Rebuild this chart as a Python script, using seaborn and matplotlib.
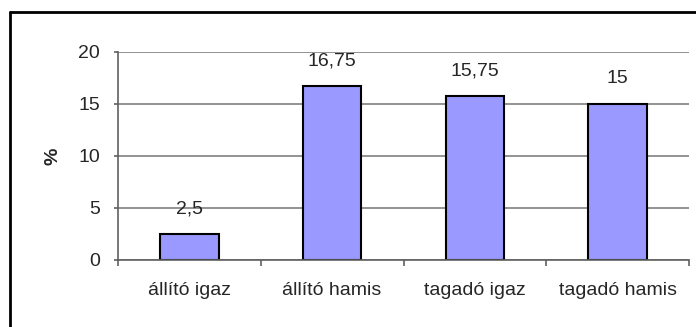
import matplotlib
matplotlib.use("Agg")
import matplotlib.pyplot as plt
from matplotlib.lines import Line2D
import seaborn as sns
import pandas as pd

categories = ["állító igaz", "állító hamis", "tagadó igaz", "tagadó hamis"]
values = [2.5, 16.75, 15.75, 15]
y_ticks = [0, 5, 10, 15, 20]

sns.set_style("white")
plt.rcParams["font.family"] = ["Liberation Sans", "DejaVu Sans"]

df = pd.DataFrame({"kategoria": categories, "ertek": values})

fig = plt.figure(figsize=(6.96, 3.27), dpi=100)
W, H = 696, 327
ax = fig.add_axes([118 / W, 1 - 260 / H, (689 - 118) / W, (260 - 52) / H])

sns.barplot(data=df, x="kategoria", y="ertek", ax=ax, color="#9999FF",
            saturation=1, width=0.41, edgecolor="black", linewidth=1.5)

ax.set_ylim(0, 20)
ax.set_xlim(-0.5, len(categories) - 0.5)
ax.set_yticks(y_ticks)
ax.set_yticklabels([str(t) for t in y_ticks])
ax.yaxis.grid(True, color="#808080", linewidth=1.2)
ax.set_axisbelow(True)

for side in ["top", "right"]:
    ax.spines[side].set_visible(False)
ax.spines["left"].set_color("#606060")
ax.spines["bottom"].set_color("#606060")
ax.spines["left"].set_linewidth(1.2)
ax.spines["bottom"].set_linewidth(1.2)

# category separators as minor x ticks between bars
ax.set_xticks([i for i in range(len(categories))])
ax.set_xticklabels(categories, fontsize=14)
ax.tick_params(axis="x", length=0, pad=16)
ax.set_xticks([i - 0.5 for i in range(len(categories) + 1)], minor=True)
ax.tick_params(axis="x", which="minor", length=4, width=1.2, color="#606060",
               direction="out", bottom=True)
ax.tick_params(axis="y", length=3, width=1.2, color="#606060", direction="out",
               left=True, pad=10, labelsize=14)

ax.set_xlabel("")
ax.set_ylabel("%", fontsize=14, fontweight="bold", labelpad=12)

labels = [f"{v:g}".replace(".", ",") for v in values]
ax.bar_label(ax.containers[0], labels=labels, padding=12, fontsize=14)

# outer chart frame (top and left edges)
fig.add_artist(Line2D([10 / W, 1], [1 - 12 / H, 1 - 12 / H], color="black",
                      linewidth=2, transform=fig.transFigure))
fig.add_artist(Line2D([10 / W, 10 / W], [0, 1 - 12 / H], color="black",
                      linewidth=2, transform=fig.transFigure))

fig.savefig("out.png", dpi=100)
